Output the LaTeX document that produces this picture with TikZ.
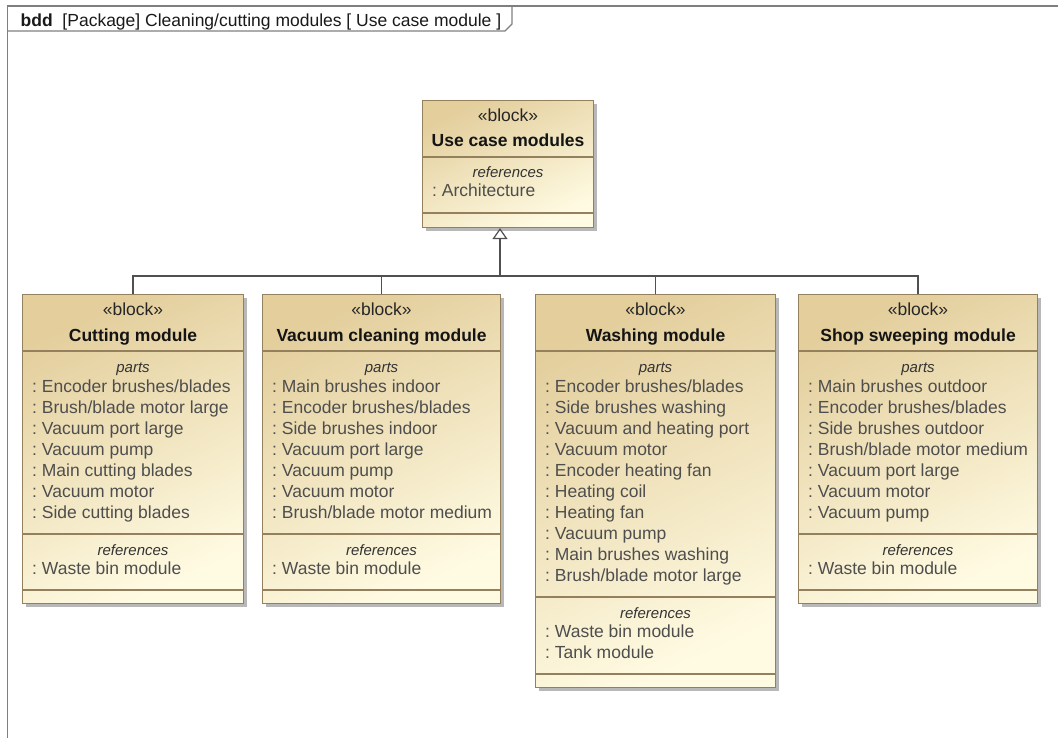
\documentclass[tikz,border=0pt]{standalone}
\usepackage{fontspec}
\setmainfont{Liberation Sans}
\usetikzlibrary{arrows.meta,positioning,shadows}
\definecolor{blocktan}{HTML}{E3CE9C}
\definecolor{blockcream}{HTML}{FFFBE3}
\definecolor{blockedge}{HTML}{94805C}
\definecolor{itemgrey}{HTML}{4E4E4E}
\definecolor{framegrey}{HTML}{7F7F7F}
\definecolor{linkgrey}{HTML}{505050}
\frenchspacing

\begin{document}
\begin{tikzpicture}[
  x=1pt, y=-1pt,
  block/.style={draw=blockedge,line width=1.1pt,anchor=north west,inner sep=0pt,
    top color=blocktan,bottom color=blockcream,shading angle=25,
    drop shadow={shadow xshift=3pt,shadow yshift=-3pt,fill=black,opacity=.28}},
  divider/.style={draw=blockedge,line width=1.1pt},
  stereo/.style={font=\fontsize{17.5}{21}\selectfont,text=black!85,anchor=base,inner sep=0pt},
  blockname/.style={font=\fontsize{17.5}{21}\selectfont\bfseries,text=black!92,anchor=base,inner sep=0pt},
  comptag/.style={font=\fontsize{15}{18}\selectfont\itshape,text=black!80,anchor=base,inner sep=0pt},
  entry/.style={font=\fontsize{17.5}{21}\selectfont,text=itemgrey,anchor=base west,inner sep=0pt},
  frameline/.style={draw=framegrey,line width=1.3pt},
  link/.style={draw=linkgrey,line width=1.2pt},
  gen/.style={link,-{Triangle[open,length=11pt,width=15pt]}}]
\useasboundingbox (0,0) rectangle (1058,738);

% diagram frame and its name tab
\draw[frameline] (7.5,738) -- (7.5,6) -- (1058,6);
\draw[frameline] (7.5,31) -- (505,31) -- (512,24) -- (512,6);
\node[anchor=base west,inner sep=0pt,font=\fontsize{17.5}{21}\selectfont,text=black!90] (hdr)
  at (20.5,26.5) {\textbf{bdd}~~[Package] Cleaning/cutting modules [ Use case module ]};

% parent block
\node[block,minimum width=171pt,minimum height=127pt] (uc) at (422,100) {};
\node[stereo] (uc-st) at ([yshift=-22pt]uc.north) {«block»};
\node[blockname] (uc-nm) at ([yshift=-47pt]uc.north) {Use case modules};
\draw[divider] ([yshift=-57pt]uc.north west) -- ([yshift=-57pt]uc.north east);
\node[comptag] (uc-rt) at ([yshift=-78pt]uc.north) {references};
\node[entry] (uc-r1) at ([xshift=10pt,yshift=-97pt]uc.north west) {: Architecture};
\draw[divider] ([yshift=-113pt]uc.north west) -- ([yshift=-113pt]uc.north east);

% cutting module
\node[block,minimum width=221pt,minimum height=309pt] (cut) at (22,294) {};
\node[stereo] (cut-st) at ([yshift=-22pt]cut.north) {«block»};
\node[blockname] (cut-nm) at ([yshift=-47pt]cut.north) {Cutting module};
\draw[divider] ([yshift=-57pt]cut.north west) -- ([yshift=-57pt]cut.north east);
\node[comptag] (cut-pt) at ([yshift=-78pt]cut.north) {parts};
\foreach \t [count=\i] in {Encoder brushes/blades,Brush/blade motor large,Vacuum port large,
    Vacuum pump,Main cutting blades,Vacuum motor,Side cutting blades}
  \node[entry] (cut-p\i) at ([xshift=10pt,yshift={-98pt-21pt*(\i-1)}]cut.north west) {: \t};
\draw[divider] ([yshift=-240pt]cut.north west) -- ([yshift=-240pt]cut.north east);
\node[comptag] (cut-rt) at ([yshift=-261pt]cut.north) {references};
\node[entry] (cut-r1) at ([xshift=10pt,yshift=-280pt]cut.north west) {: Waste bin module};
\draw[divider] ([yshift=-296pt]cut.north west) -- ([yshift=-296pt]cut.north east);

% vacuum cleaning module
\node[block,minimum width=238pt,minimum height=309pt] (vac) at (262,294) {};
\node[stereo] (vac-st) at ([yshift=-22pt]vac.north) {«block»};
\node[blockname] (vac-nm) at ([yshift=-47pt]vac.north) {Vacuum cleaning module};
\draw[divider] ([yshift=-57pt]vac.north west) -- ([yshift=-57pt]vac.north east);
\node[comptag] (vac-pt) at ([yshift=-78pt]vac.north) {parts};
\foreach \t [count=\i] in {Main brushes indoor,Encoder brushes/blades,Side brushes indoor,
    Vacuum port large,Vacuum pump,Vacuum motor,Brush/blade motor medium}
  \node[entry] (vac-p\i) at ([xshift=10pt,yshift={-98pt-21pt*(\i-1)}]vac.north west) {: \t};
\draw[divider] ([yshift=-240pt]vac.north west) -- ([yshift=-240pt]vac.north east);
\node[comptag] (vac-rt) at ([yshift=-261pt]vac.north) {references};
\node[entry] (vac-r1) at ([xshift=10pt,yshift=-280pt]vac.north west) {: Waste bin module};
\draw[divider] ([yshift=-296pt]vac.north west) -- ([yshift=-296pt]vac.north east);

% washing module
\node[block,minimum width=240pt,minimum height=393pt] (wash) at (535,294) {};
\node[stereo] (wash-st) at ([yshift=-22pt]wash.north) {«block»};
\node[blockname] (wash-nm) at ([yshift=-47pt]wash.north) {Washing module};
\draw[divider] ([yshift=-57pt]wash.north west) -- ([yshift=-57pt]wash.north east);
\node[comptag] (wash-pt) at ([yshift=-78pt]wash.north) {parts};
\foreach \t [count=\i] in {Encoder brushes/blades,Side brushes washing,Vacuum and heating port,
    Vacuum motor,Encoder heating fan,Heating coil,Heating fan,Vacuum pump,
    Main brushes washing,Brush/blade motor large}
  \node[entry] (wash-p\i) at ([xshift=10pt,yshift={-98pt-21pt*(\i-1)}]wash.north west) {: \t};
\draw[divider] ([yshift=-303pt]wash.north west) -- ([yshift=-303pt]wash.north east);
\node[comptag] (wash-rt) at ([yshift=-324pt]wash.north) {references};
\foreach \t [count=\i] in {Waste bin module,Tank module}
  \node[entry] (wash-r\i) at ([xshift=10pt,yshift={-343pt-21pt*(\i-1)}]wash.north west) {: \t};
\draw[divider] ([yshift=-380pt]wash.north west) -- ([yshift=-380pt]wash.north east);

% shop sweeping module
\node[block,minimum width=239pt,minimum height=309pt] (shop) at (798,294) {};
\node[stereo] (shop-st) at ([yshift=-22pt]shop.north) {«block»};
\node[blockname] (shop-nm) at ([yshift=-47pt]shop.north) {Shop sweeping module};
\draw[divider] ([yshift=-57pt]shop.north west) -- ([yshift=-57pt]shop.north east);
\node[comptag] (shop-pt) at ([yshift=-78pt]shop.north) {parts};
\foreach \t [count=\i] in {Main brushes outdoor,Encoder brushes/blades,Side brushes outdoor,
    Brush/blade motor medium,Vacuum port large,Vacuum motor,Vacuum pump}
  \node[entry] (shop-p\i) at ([xshift=10pt,yshift={-98pt-21pt*(\i-1)}]shop.north west) {: \t};
\draw[divider] ([yshift=-240pt]shop.north west) -- ([yshift=-240pt]shop.north east);
\node[comptag] (shop-rt) at ([yshift=-261pt]shop.north) {references};
\node[entry] (shop-r1) at ([xshift=10pt,yshift=-280pt]shop.north west) {: Waste bin module};
\draw[divider] ([yshift=-296pt]shop.north west) -- ([yshift=-296pt]shop.north east);

% generalization tree
\coordinate (bus) at (500,276);
\foreach \b in {cut,vac,wash,shop}
  \draw[link] (\b.north) |- (bus);
\draw[gen] (bus) -- (bus |- uc.south);
\end{tikzpicture}
\end{document}
